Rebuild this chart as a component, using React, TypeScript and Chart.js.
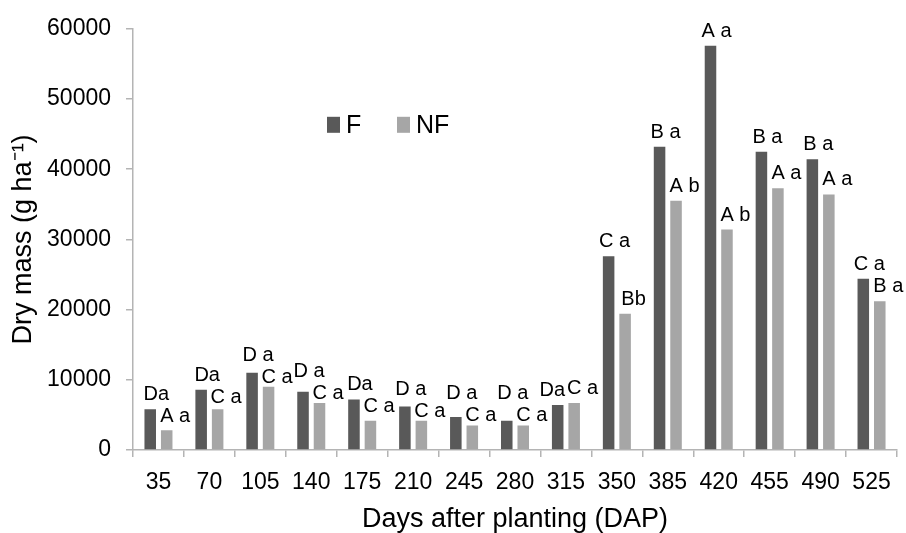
import React, { useEffect, useRef } from "react";
import { Chart, registerables } from "chart.js";

Chart.register(...registerables);

const categories = ["35", "70", "105", "140", "175", "210", "245", "280", "315", "350", "385", "420", "455", "490", "525"];
const fValues = [5800, 8600, 11000, 8300, 7200, 6200, 4700, 4150, 6400, 27600, 43200, 57600, 42500, 41400, 24400];
const nfValues = [2800, 5800, 9000, 6700, 4150, 4150, 3500, 3500, 6700, 19400, 35500, 31400, 37300, 36400, 21200];
const fLetters = ["Da", "Da", "D a", "D a", "Da", "D a", "D a", "D a", "Da", "C a", "B a", "A a", "B a", "B a", "C a"];
const nfLetters = ["A a", "C a", "C a", "C a", "C a", "C a", "C a", "C a", "C a", "Bb", "A b", "A b", "A a", "A a", "B a"];
const seriesNames = ["F", "NF"];
const seriesColors = ["#595959", "#a6a6a6"];
const yTicks = [0, 10000, 20000, 30000, 40000, 50000, 60000];

const FONT = "'Liberation Sans', Arial, sans-serif";
const AXIS = "#b4b4b4";

const barLabelPlugin = {
  id: "barLabels",
  afterDatasetsDraw(chart: any) {
    const ctx = chart.ctx;
    const dxF = 6;
    const dxN = 8.5;
    const gap = 9;
    const minSep = 22;
    const maxDown = 5;
    ctx.save();
    ctx.font = `20px ${FONT}`;
    ctx.fillStyle = "#000";
    ctx.textAlign = "center";
    ctx.textBaseline = "alphabetic";
    const metaF = chart.getDatasetMeta(0);
    const metaN = chart.getDatasetMeta(1);
    metaF.data.forEach((barF: any, j: number) => {
      const barN = metaN.data[j];
      const tF = fLetters[j];
      const tN = nfLetters[j];
      let xF = barF.x + dxF;
      const xN = barN.x + dxN;
      let yF = barF.y - gap;
      let yN = barN.y - gap;
      const wF = ctx.measureText(tF).width;
      const wN = ctx.measureText(tN).width;
      const overlapX = (xF + wF / 2 + 2) - (xN - wN / 2);
      const d = yN - yF;
      if (overlapX > 0 && d < minSep) {
        if (d > 3) {
          const need = minSep - d;
          const down = Math.min(need, maxDown);
          yN += down;
          yF -= need - down;
        } else if (d > -minSep) {
          xF -= overlapX;
        }
      }
      ctx.fillText(tF, xF, yF);
      ctx.fillText(tN, xN, yN);
    });
    ctx.restore();
  },
};

const legendPlugin = {
  id: "innerLegend",
  afterDraw(chart: any) {
    const ctx = chart.ctx;
    const area = chart.chartArea;
    const x0 = area.left + 194;
    const yc = area.top + 96;
    const itemStep = 70;
    ctx.save();
    ctx.font = `25px ${FONT}`;
    ctx.textBaseline = "middle";
    ctx.textAlign = "left";
    chart.data.datasets.forEach((ds: any, i: number) => {
      const x = x0 + i * itemStep;
      ctx.fillStyle = ds.backgroundColor;
      ctx.fillRect(x, yc - 8, 13, 16);
      ctx.fillStyle = "#000";
      ctx.fillText(ds.label, x + 19, yc + 1);
    });
    ctx.restore();
  },
};

export default function App() {
  const ref = useRef<HTMLCanvasElement>(null);
  useEffect(() => {
    if (!ref.current) return;
    const chart = new Chart(ref.current, {
      type: "bar",
      data: {
        labels: categories,
        datasets: [
          { label: seriesNames[0], data: fValues, backgroundColor: seriesColors[0], categoryPercentage: 0.647, barPercentage: 0.7 },
          { label: seriesNames[1], data: nfValues, backgroundColor: seriesColors[1], categoryPercentage: 0.647, barPercentage: 0.7 },
        ],
      },
      options: {
        animation: false,
        responsive: false,
        maintainAspectRatio: false,
        layout: { padding: { left: 0, top: 26, right: 9, bottom: 0 } },
        plugins: { legend: { display: false }, tooltip: { enabled: false } },
        scales: {
          x: {
            grid: { display: true, drawOnChartArea: false, drawTicks: true, tickLength: 7, color: AXIS, lineWidth: 1.5 },
            border: { display: true, color: AXIS, width: 1.5 },
            ticks: { color: "#000", font: { family: FONT, size: 23 }, padding: 12, maxRotation: 0, autoSkip: false },
            title: { display: true, text: "Days after planting (DAP)", color: "#000", font: { family: FONT, size: 27, lineHeight: 1 }, padding: { top: 0, bottom: 0 } },
            afterFit(scale: any) { scale.height = 83; },
          },
          y: {
            min: 0,
            max: 60000,
            afterBuildTicks(scale: any) { scale.ticks = yTicks.map((v) => ({ value: v })); },
            grid: { display: true, drawOnChartArea: false, drawTicks: true, tickLength: 7, color: AXIS, lineWidth: 1.5 },
            border: { display: true, color: AXIS, width: 1.5 },
            ticks: { color: "#000", font: { family: FONT, size: 23 }, padding: 15, callback: (v: any) => String(v) },
            title: { display: true, text: "Dry mass (g ha\u207B\u00B9)", color: "#000", font: { family: FONT, size: 27, lineHeight: 1 }, padding: { top: 10, bottom: 0 } },
            afterFit(scale: any) { scale.width = 133; },
          },
        },
      },
      plugins: [barLabelPlugin, legendPlugin],
    });
    return () => chart.destroy();
  }, []);
  return (
    <div style={{ position: "fixed", left: 0, top: 0, width: 906, height: 533, background: "#fff" }}>
      <canvas ref={ref} width={906} height={533} style={{ display: "block" }} />
    </div>
  );
}
